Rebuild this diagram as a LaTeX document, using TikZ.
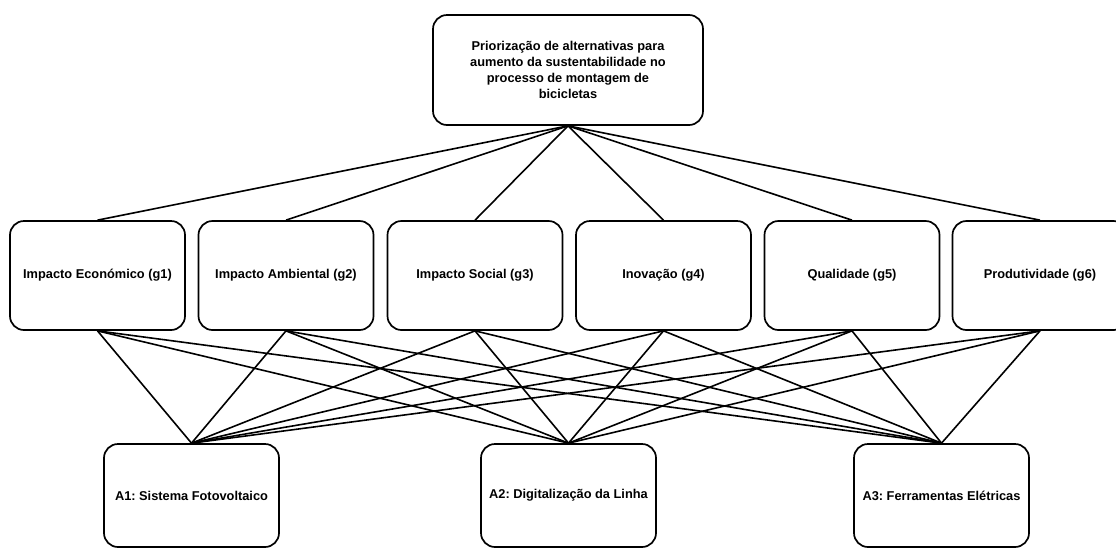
\documentclass[tikz,border=0pt]{standalone}
\usepackage{fontspec}
\setmainfont{Liberation Sans}
\frenchspacing
\begin{document}
\begin{tikzpicture}[x=1pt,y=-1pt,
  box/.style={draw=black, line width=1.7pt, rounded corners=14pt, inner sep=0pt, align=center, font=\bfseries\fontsize{12.8}{16}\selectfont},
  crit/.style={box, minimum width=175pt, minimum height=109pt},
  alt/.style={box, minimum width=175pt, minimum height=103pt},
  link/.style={draw=black, line width=1.6pt}]
\clip (0,0) rectangle (1116,547);
\useasboundingbox (0,0) rectangle (1116,547);
\node[box, minimum width=270pt, minimum height=110pt] (top) at (568,70)
  {Priorização de alternativas para\\aumento da sustentabilidade no\\processo de montagem de\\bicicletas};
\node[crit] (g1) at (97.5,275.5) {Impacto Económico (g1)};
\node[crit] (g2) at (286,275.5) {Impacto Ambiental (g2)};
\node[crit] (g3) at (475,275.5) {Impacto Social (g3)};
\node[crit] (g4) at (663.5,275.5) {Inovação (g4)};
\node[crit] (g5) at (852,275.5) {Qualidade (g5)};
\node[crit] (g6) at (1040,275.5) {Produtividade (g6)};
\node[alt] (a1) at (191.5,495.5) {A1: Sistema Fotovoltaico};
\node[alt] (a2) at (568.5,495.5) {A2: Digitalização da Linha};
\node[alt] (a3) at (941.5,495.5) {A3: Ferramentas Elétricas};
\foreach \g in {g1,g2,g3,g4,g5,g6}{
  \draw[link] (top.south) -- (\g.north);
  \foreach \a in {a1,a2,a3}{
    \draw[link] (\g.south) -- (\a.north);
  }
}
\end{tikzpicture}
\end{document}
